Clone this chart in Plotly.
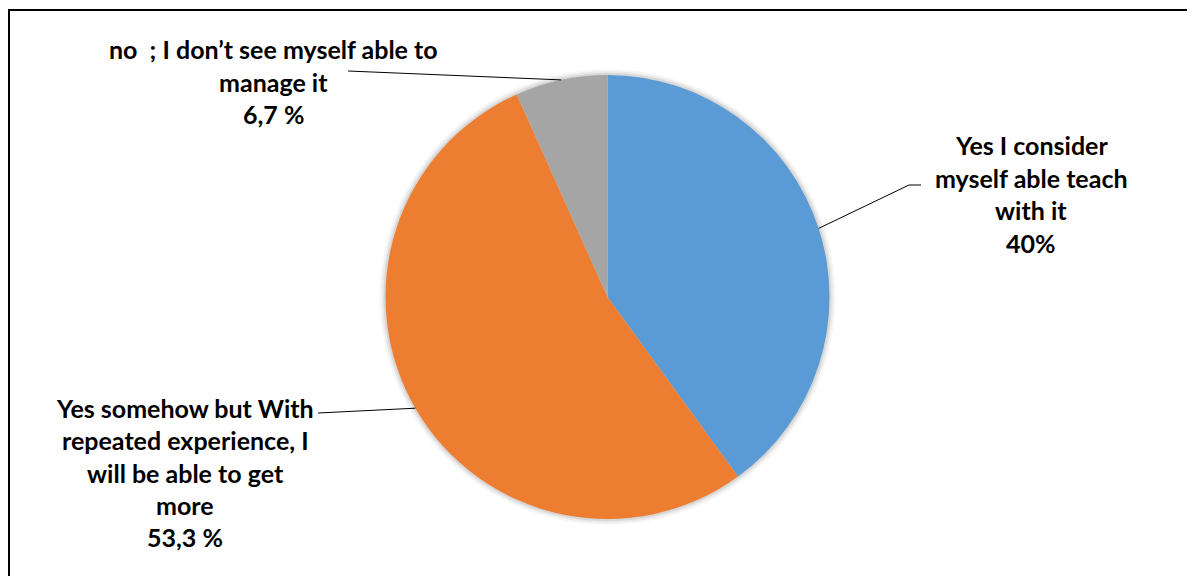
import math
import plotly.graph_objects as go

# ---- data ----
categories = [
    "Yes I consider myself able teach with it",
    "Yes somehow but With repeated experience, I will be able to get more",
    "no  ; I don’t see myself able to manage it",
]
values = [40, 53.3, 6.7]
pct_labels = ["40%", "53,3 %", "6,7 %"]
label_lines = [
    ["Yes I consider", "myself able teach", "with it"],
    ["Yes somehow but With", "repeated experience, I", "will be able to get", "more"],
    ["no  ; I don’t see myself able to", "manage it"],
]
colors = ["#5B9BD5", "#ED7D31", "#A5A5A5"]

# ---- layout geometry (pixels, page coordinates) ----
W, H = 1187, 568
OFF = 8  # default body margin of the page
cx, cy, R = 607.5, 297, 222
label_pos = [(1031, 145), (185, 408), (273, 49)]   # first-line centre
line_gap = [32.7, 32.3, 32.5]
elbows = [[(909, 185), (921, 185)], [(318, 413)], [(348, 71)]]
FONT = "Lato"
FSIZE = 25


def px(x):
    return (x - OFF) / W


def py(y):
    return 1 - (y - OFF) / H


fig = go.Figure()
fig.add_trace(go.Pie(
    labels=categories, values=values, sort=False, direction="clockwise",
    rotation=0, marker=dict(colors=colors, line=dict(width=0)),
    textinfo="none", hoverinfo="label+percent", showlegend=False,
    domain=dict(x=[px(cx - R), px(cx + R)], y=[py(cy + R), py(cy - R)]),
))

shapes = []
# soft shadow behind the pie
for k, op in [(6, 0.03), (4, 0.05), (2, 0.08)]:
    shapes.append(dict(type="circle", xref="paper", yref="paper", layer="below",
                       x0=px(cx - R - k), x1=px(cx + R + k),
                       y0=py(cy + R + k), y1=py(cy - R - k),
                       fillcolor=f"rgba(0,0,0,{op})", line=dict(width=0)))
# frame lines (top and left)
shapes.append(dict(type="line", xref="paper", yref="paper", x0=px(9), x1=px(1200),
                   y0=py(10), y1=py(10), line=dict(color="black", width=2)))
shapes.append(dict(type="line", xref="paper", yref="paper", x0=px(9), x1=px(9),
                   y0=py(9), y1=py(580), line=dict(color="black", width=2)))

annotations = []
total = sum(values)
cum = 0
for i, v in enumerate(values):
    mid = (cum + v / 2) / total * 2 * math.pi
    cum += v
    ex, ey = cx + R * math.sin(mid), cy - R * math.cos(mid)
    pts = [(ex, ey)] + elbows[i]
    path = "M " + " L ".join(f"{px(a)},{py(b)}" for a, b in pts)
    shapes.append(dict(type="path", xref="paper", yref="paper", path=path,
                       line=dict(color="black", width=1)))
    lines = label_lines[i] + [pct_labels[i]]
    lx, ly = label_pos[i]
    for j, t in enumerate(lines):
        annotations.append(dict(
            text=f"<b>{t}</b>", x=px(lx), y=py(ly + j * line_gap[i]),
            xref="paper", yref="paper", xanchor="center", yanchor="middle",
            showarrow=False, font=dict(family=FONT, size=FSIZE, color="black")))

fig.update_layout(
    width=W, height=H, margin=dict(l=0, r=0, t=0, b=0),
    paper_bgcolor="white", plot_bgcolor="white",
    shapes=shapes, annotations=annotations,
)
fig.write_html("out.html")
